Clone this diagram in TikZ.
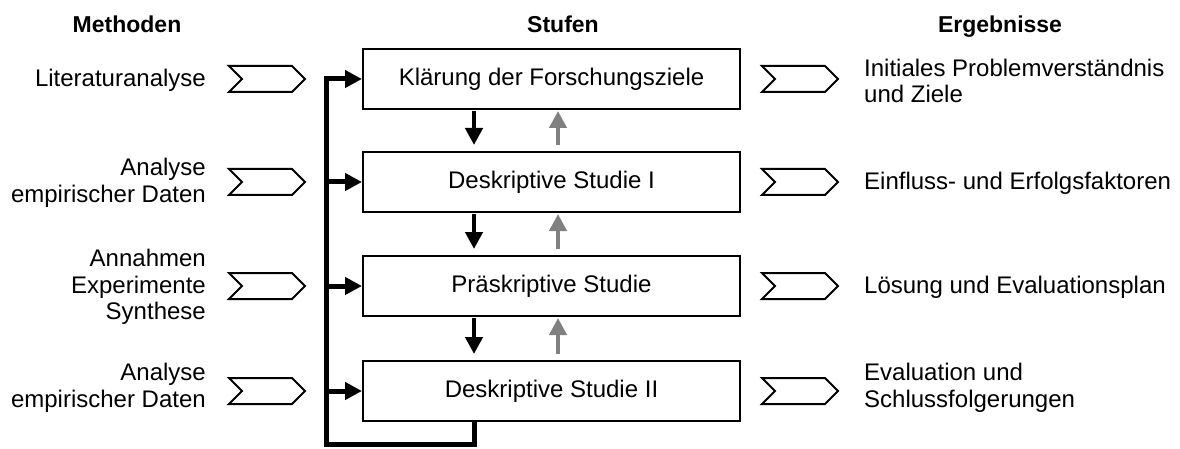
\documentclass[tikz,border=0pt]{standalone}
\usepackage{fontspec}
\setmainfont{Liberation Sans}
\usetikzlibrary{arrows.meta,calc}
\tikzset{
  stufe/.style={draw, line width=2pt, minimum width=377pt, minimum height=60pt, inner sep=0pt, font=\fontsize{24}{26.5}\selectfont},
  lefttxt/.style={anchor=east, align=right, inner sep=0pt, font=\fontsize{24}{26.5}\selectfont},
  righttxt/.style={anchor=west, align=left, inner sep=0pt, font=\fontsize{24}{26.5}\selectfont},
  header/.style={anchor=base, inner sep=0pt, font=\fontsize{23}{26}\selectfont\bfseries},
  chevst/.style={draw, line width=2pt, line join=miter, fill=white},
  fb/.style={line width=5pt, line join=miter, -{Triangle[length=17pt,width=17pt]}},
  dnarrow/.style={line width=4.5pt, black, -{Triangle[length=17pt,width=17pt]}},
  uparrow/.style={line width=4.5pt, black!50, -{Triangle[length=17pt,width=17pt]}},
}
\newcommand\mychev[1]{\draw[chevst] ($(#1)+(-38,-13)$) -- ++(63,0) -- ++(13,13) -- ++(-13,13) -- ++(-63,0) -- ++(13,-13) -- cycle;}
\begin{document}
\begin{tikzpicture}[x=1pt,y=-1pt]
\useasboundingbox (0,0) rectangle (1180,449);
% headers
\node[header] (h1) at (127,33) {Methoden};
\node[header] (h2) at (563,33) {Stufen};
\node[header] (h3) at (1000,33) {Ergebnisse};
% stages
\node[stufe] (s1) at (551.5,79) {Klärung der Forschungsziele};
\node[stufe] (s2) at (551.5,182) {Deskriptive Studie I};
\node[stufe] (s3) at (551.5,286) {Präskriptive Studie};
\node[stufe] (s4) at (551.5,391) {Deskriptive Studie II};
% chevron centres
\coordinate (cl1) at (267,79);
\coordinate (cl2) at (267,182);
\coordinate (cl3) at (267,286);
\coordinate (cl4) at (267,391);
\coordinate (cr1) at (800,79);
\coordinate (cr2) at (800,182);
\coordinate (cr3) at (800,286);
\coordinate (cr4) at (800,391);
\mychev{cl1}\mychev{cl2}\mychev{cl3}\mychev{cl4}
\mychev{cr1}\mychev{cr2}\mychev{cr3}\mychev{cr4}
% methods
\node[lefttxt] (m1) at (206,80) {Literaturanalyse};
\node[lefttxt] (m2) at (206,183) {Analyse\\empirischer Daten};
\node[lefttxt] (m3) at (206,287) {Annahmen\\Experimente\\Synthese};
\node[lefttxt] (m4) at (206,388) {Analyse\\empirischer Daten};
% results
\node[righttxt] (r1) at (864,81) {Initiales Problemverständnis\\und Ziele};
\node[righttxt] (r2) at (864,183) {Einfluss- und Erfolgsfaktoren};
\node[righttxt] (r3) at (864,287) {Lösung und Evaluationsplan};
\node[righttxt] (r4) at (864,388) {Evaluation und\\Schlussfolgerungen};
% feedback loop
\coordinate (fbx) at (326,0);
\coordinate (dn) at (474,0);
\coordinate (up) at (558,0);
\coordinate (bot) at (0,444);
\draw[fb] (s4.south -| dn) -- (dn |- bot) -| (fbx |- s1.west) -- (s1.west);
\draw[fb] (fbx |- s2.west) -- (s2.west);
\draw[fb] (fbx |- s3.west) -- (s3.west);
\draw[fb] (fbx |- s4.west) -- (s4.west);
% down / up arrows
\draw[dnarrow] ($(s1.south -| dn)+(0,1)$) -- ($(s2.north -| dn)+(0,-6)$);
\draw[dnarrow] ($(s2.south -| dn)+(0,1)$) -- ($(s3.north -| dn)+(0,-6)$);
\draw[dnarrow] ($(s3.south -| dn)+(0,1)$) -- ($(s4.north -| dn)+(0,-6)$);
\draw[uparrow] ($(s2.north -| up)+(0,-6)$) -- ($(s1.south -| up)+(0,1)$);
\draw[uparrow] ($(s3.north -| up)+(0,-6)$) -- ($(s2.south -| up)+(0,1)$);
\draw[uparrow] ($(s4.north -| up)+(0,-6)$) -- ($(s3.south -| up)+(0,1)$);
\end{tikzpicture}
\end{document}
